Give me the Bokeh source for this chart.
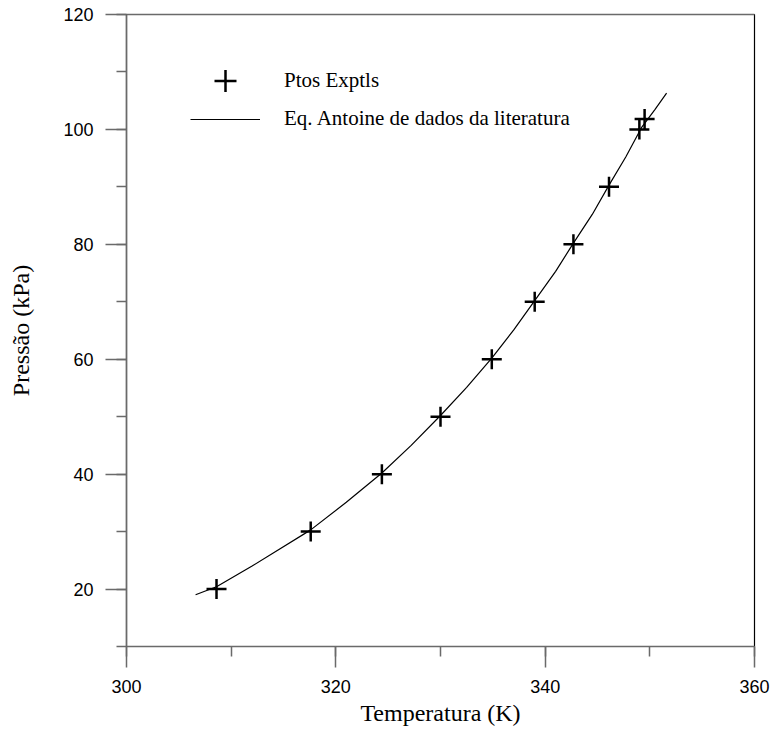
from bokeh.plotting import figure
from bokeh.models import Range1d, SingleIntervalTicker, LinearAxis, Legend, LegendItem, FixedTicker
from bokeh.embed import file_html
from bokeh.resources import INLINE

# Experimental points
T_exp = [308.6, 317.6, 324.4, 330.0, 334.9, 339.0, 342.7, 346.1, 349.0, 349.5]
P_exp = [20.0, 30.0, 40.0, 50.0, 60.0, 70.0, 80.0, 90.0, 100.0, 101.8]

# Antoine equation curve
T_curve = [306.6, 308.6, 312.0, 317.6, 321.0, 324.4, 327.2, 330.0, 332.5, 334.9,
           337.0, 339.0, 341.0, 342.7, 344.5, 346.1, 347.7, 349.2, 350.5, 351.6]
P_curve = [19.0, 20.4, 24.0, 30.3, 35.1, 40.2, 45.0, 50.2, 55.1, 60.2,
           65.1, 70.2, 75.3, 80.2, 85.2, 90.3, 95.2, 100.3, 103.5, 106.3]

x_ticks_label = "Temperatura (K)"
y_ticks_label = "Pressão (kPa)"

p = figure(width=770, height=728, output_backend="svg", toolbar_location=None,
           x_range=Range1d(300, 360), y_range=Range1d(10, 120),
           min_border_left=126, min_border_right=16, min_border_top=14, min_border_bottom=82)

p.grid.visible = False
p.outline_line_color = "black"
p.outline_line_width = 1.2
p.background_fill_color = "white"
p.border_fill_color = "white"

axis_gray = "#6a6a6a"
for ax, lbl in ((p.xaxis[0], x_ticks_label), (p.yaxis[0], y_ticks_label)):
    ax.ticker = SingleIntervalTicker(interval=20, num_minor_ticks=2)
    ax.axis_label = lbl
    ax.axis_label_text_font = "Liberation Serif"
    ax.axis_label_text_font_size = "24px"
    ax.axis_label_text_font_style = "normal"
    ax.axis_label_text_color = "black"
    ax.major_label_text_font = "Liberation Sans"
    ax.major_label_text_font_size = "18px"
    ax.major_label_text_color = "black"
    ax.axis_line_color = axis_gray
    ax.axis_line_width = 1.5
    ax.major_tick_line_color = axis_gray
    ax.minor_tick_line_color = axis_gray
    ax.major_tick_line_width = 1.5
    ax.minor_tick_line_width = 1.5
    ax.major_tick_in = 0
    ax.major_tick_out = 21
    ax.minor_tick_in = 0
    ax.minor_tick_out = 10

p.xaxis[0].major_label_standoff = 12
p.xaxis[0].axis_label_standoff = 4
p.yaxis[0].major_label_standoff = 12
p.yaxis[0].axis_label_standoff = 26

top_axis = LinearAxis(ticker=FixedTicker(ticks=[]), axis_line_color=axis_gray, axis_line_width=1.5,
                      major_label_text_font_size="0px", major_tick_line_color=None,
                      minor_tick_line_color=None)
p.add_layout(top_axis, "above")

curve = p.line(T_curve, P_curve, line_color="black", line_width=1.2)
pts = p.scatter(T_exp, P_exp, marker="cross", size=20, line_color="black", line_width=2.5)

leg1 = Legend(items=[LegendItem(label="Ptos Exptls", renderers=[pts])],
              location=(64, 538), glyph_width=70, glyph_height=55, label_standoff=24,
              label_text_font="Liberation Serif", label_text_font_size="21px",
              label_text_color="black", padding=0, margin=0, border_line_color=None,
              background_fill_alpha=0)
leg2 = Legend(items=[LegendItem(label="Eq. Antoine de dados da literatura", renderers=[curve])],
              location=(64, 515), glyph_width=70, glyph_height=20, label_standoff=24,
              label_text_font="Liberation Serif", label_text_font_size="21px",
              label_text_color="black", padding=0, margin=0, border_line_color=None,
              background_fill_alpha=0)
p.add_layout(leg1, "center")
p.add_layout(leg2, "center")

open("out.html", "w").write(file_html(p, INLINE))
